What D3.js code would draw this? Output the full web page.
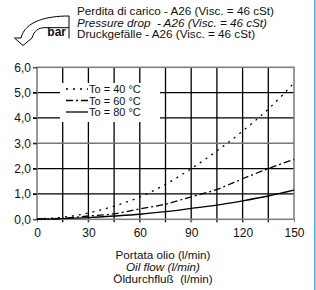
<!DOCTYPE html>
<html>
<head>
<meta charset="utf-8">
<script src="https://cdn.jsdelivr.net/npm/d3@7"></script>
<style>
  body { margin: 0; background: #fff; }
  svg { display: block; font-family: "Liberation Sans", Arial, sans-serif; }
</style>
</head>
<body>
<div id="chart"></div>
<script>
// data
var flow = [0, 15, 30, 45, 60, 75, 90, 105, 120, 135, 150];
var drop40 = [0.02, 0.08, 0.25, 0.52, 0.88, 1.38, 2.0, 2.7, 3.48, 4.35, 5.38];
var drop60 = [0.01, 0.04, 0.13, 0.22, 0.41, 0.6, 0.89, 1.18, 1.6, 2.0, 2.37];
var drop80 = [0.01, 0.03, 0.07, 0.13, 0.2, 0.3, 0.43, 0.56, 0.73, 0.92, 1.15];
var seriesNames = ["To = 40 °C", "To = 60 °C", "To = 80 °C"];
var xTicks = [0, 30, 60, 90, 120, 150];
var xGrid = [15, 30, 45, 60, 75, 90, 105, 120, 135];
var yTicks = [0, 1, 2, 3, 4, 5, 6];
var titleLines = ["Perdita di carico - A26 (Visc. = 46 cSt)", "Pressure drop  - A26 (Visc. = 46 cSt)", "Druckgefälle - A26 (Visc. = 46 cSt)"];
var xLabelLines = ["Portata olio (l/min)", "Oil flow (l/min)", "Öldurchfluß  (l/min)"];

var width = 316, height = 290;
var dashes = ["2,5", "7,3,2,3", null];
var allSeries = [drop40, drop60, drop80];

var svg = d3.select("#chart").append("svg")
  .attr("width", width)
  .attr("height", height);

var x = d3.scaleLinear().domain([0, 150]).range([37, 294]);
var y = d3.scaleLinear().domain([0, 6]).range([219.3, 67.3]);

// grid
svg.selectAll("line.vgrid")
  .data(xGrid)
  .enter().append("line")
  .attr("class", "vgrid")
  .attr("x1", function(d) { return x(d); })
  .attr("x2", function(d) { return x(d); })
  .attr("y1", y(6))
  .attr("y2", y(0) + 3)
  .attr("stroke", "#000")
  .attr("stroke-width", 1.3);

svg.selectAll("line.hgrid")
  .data(yTicks.slice(1, 6))
  .enter().append("line")
  .attr("class", "hgrid")
  .attr("x1", x(0) - 4)
  .attr("x2", x(150))
  .attr("y1", function(d) { return y(d); })
  .attr("y2", function(d) { return y(d); })
  .attr("stroke", function(d) { return d == 3 ? "#777" : "#000"; })
  .attr("stroke-width", function(d) { return d == 3 ? 1.6 : 1.2; });

// frame
svg.append("rect")
  .attr("x", x(0))
  .attr("y", y(6))
  .attr("width", x(150) - x(0))
  .attr("height", y(0) - y(6))
  .attr("fill", "none")
  .attr("stroke", "#808080")
  .attr("stroke-width", 1.6);

// axes labels
var xAxis = d3.axisBottom(x).tickValues(xTicks).tickSize(3).tickFormat(d3.format("d"));
var gx = svg.append("g").attr("transform", "translate(0," + y(0) + ")").call(xAxis);
gx.select(".domain").remove();
gx.selectAll("line").attr("stroke", "#808080");
gx.selectAll("text").attr("font-size", 12).attr("fill", "#111").attr("y", 9).attr("dy", "0.71em");

var yAxis = d3.axisLeft(y).tickValues(yTicks).tickSize(4)
  .tickFormat(function(d) { return d3.format(".1f")(d).replace(".", ","); });
var gy = svg.append("g").attr("transform", "translate(" + x(0) + ",0)").call(yAxis);
gy.select(".domain").remove();
gy.selectAll("line").attr("stroke", "#000");
gy.selectAll("text").attr("font-size", 12).attr("fill", "#111").attr("x", -6);

// curves
var line = d3.line()
  .x(function(d, i) { return x(flow[i]); })
  .y(function(d) { return y(d); })
  .curve(d3.curveMonotoneX);

svg.selectAll("path.curve")
  .data(allSeries)
  .enter().append("path")
  .attr("class", "curve")
  .attr("d", line)
  .attr("fill", "none")
  .attr("stroke", "#000")
  .attr("stroke-width", 1.3)
  .attr("stroke-dasharray", function(d, i) { return dashes[i]; });

// legend
svg.append("rect")
  .attr("x", 60).attr("y", 83)
  .attr("width", 100).attr("height", 39)
  .attr("fill", "#fff");

var leg = svg.selectAll("g.leg")
  .data(seriesNames)
  .enter().append("g")
  .attr("class", "leg")
  .attr("transform", function(d, i) { return "translate(66," + (89 + i * 11.5) + ")"; });

leg.append("line")
  .attr("x1", 0).attr("x2", 22)
  .attr("stroke", "#000")
  .attr("stroke-width", 1.3)
  .attr("stroke-dasharray", function(d, i) { return dashes[i]; });

leg.append("text")
  .attr("x", 23).attr("y", 4)
  .attr("font-size", 11)
  .attr("fill", "#111")
  .text(function(d) { return d; });

// title block
svg.selectAll("text.title")
  .data(titleLines)
  .enter().append("text")
  .attr("class", "title")
  .attr("x", 77)
  .attr("y", function(d, i) { return 15 + i * 11.7; })
  .attr("font-size", 11.7)
  .attr("font-style", function(d, i) { return i == 1 ? "italic" : "normal"; })
  .attr("fill", "#111")
  .style("white-space", "pre")
  .text(function(d) { return d; });

// "bar" arrow icon
svg.append("path")
  .attr("d", "M69,16 C47,16 25,21 21,38 L14.5,38 L23,45.5 L32,38 C34,31 38,27.7 45,27.7 L69,27.7 M69,16 L69,38.5")
  .attr("fill", "none")
  .attr("stroke", "#000")
  .attr("stroke-width", 1);

svg.append("text")
  .attr("x", 66).attr("y", 36)
  .attr("text-anchor", "end")
  .attr("font-size", 12)
  .attr("font-weight", "bold")
  .attr("fill", "#111")
  .text("bar");

// x axis title
svg.selectAll("text.xlab")
  .data(xLabelLines)
  .enter().append("text")
  .attr("class", "xlab")
  .attr("x", 163)
  .attr("y", function(d, i) { return 259 + i * 12; })
  .attr("text-anchor", "middle")
  .attr("font-size", 11.7)
  .attr("font-style", function(d, i) { return i == 1 ? "italic" : "normal"; })
  .attr("fill", "#111")
  .style("white-space", "pre")
  .text(function(d) { return d; });

// page edge line
svg.append("line")
  .attr("x1", 314.8).attr("x2", 314.8)
  .attr("y1", 0).attr("y2", height)
  .attr("stroke", "#4aa9da")
  .attr("stroke-width", 1.5);
</script>
</body>
</html>
